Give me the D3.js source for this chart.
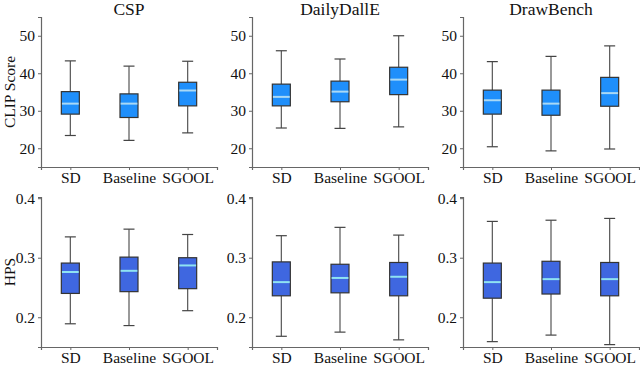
<!DOCTYPE html>
<html>
<head>
<meta charset="utf-8">
<script src="https://cdn.jsdelivr.net/npm/d3@7"></script>
<style>
  body { margin: 0; background: #fff; }
  svg { display: block; }
  text { font-family: "Liberation Serif", "Times New Roman", serif; fill: #111; }
</style>
</head>
<body>
<svg id="chart"></svg>
<script>
// ===== DATA =====
const datasets = ["CSP", "DailyDallE", "DrawBench"];
const methods = ["SD", "Baseline", "SGOOL"];

// [lower whisker, Q1, median, Q3, upper whisker] per method
const clipCSP        = [[23.4, 29.1, 31.9, 35.1, 43.3], [22.1, 28.2, 31.9, 34.5, 41.9], [24.1, 31.3, 35.4, 37.6, 43.2]];
const clipDailyDallE = [[25.4, 31.3, 33.7, 37.1, 46.0], [25.3, 32.4, 35.1, 37.9, 43.8], [25.7, 34.3, 38.3, 41.6, 50.0]];
const clipDrawBench  = [[20.4, 29.1, 32.8, 35.5, 43.1], [19.3, 28.8, 31.9, 35.5, 44.5], [19.8, 31.2, 34.7, 38.9, 47.3]];

const hpsCSP        = [[0.189, 0.240, 0.276, 0.291, 0.335], [0.186, 0.243, 0.278, 0.301, 0.348], [0.211, 0.248, 0.287, 0.300, 0.339]];
const hpsDailyDallE = [[0.168, 0.236, 0.259, 0.293, 0.337], [0.175, 0.241, 0.266, 0.289, 0.351], [0.162, 0.236, 0.268, 0.292, 0.338]];
const hpsDrawBench  = [[0.159, 0.232, 0.259, 0.291, 0.361], [0.170, 0.239, 0.264, 0.294, 0.363], [0.154, 0.236, 0.264, 0.292, 0.366]];

const clipTicks = [20, 30, 40, 50];
const hpsTicks = [0.2, 0.3, 0.4];

const rows = [
    { label: "CLIP Score", data: [clipCSP, clipDailyDallE, clipDrawBench], domain: [15, 55], ticks: clipTicks, fmt: d3.format("d"),
      fill: "#1f8ffb", median: "#a9d8f5", top: 17, bottom: 167 },
    { label: "HPS", data: [hpsCSP, hpsDailyDallE, hpsDrawBench], domain: [0.15, 0.402], ticks: hpsTicks, fmt: d3.format(".1f"),
      fill: "#3f67e0", median: "#8fe3f2", top: 197, bottom: 347 }
];

const width = 640, height = 365;
const svg = d3.select("svg#chart")
    .attr("width", width)
    .attr("height", height);

const panelLeft = [41, 252, 463];
const panelWidth = 176;
const boxW = 18, capW = 11;

rows.forEach((row, ri) => {
    const y = d3.scaleLinear().domain(row.domain).range([row.bottom, row.top]);

    datasets.forEach((name, ci) => {
        const x0 = panelLeft[ci];
        const x = d3.scalePoint()
            .domain(methods)
            .range([x0, x0 + panelWidth])
            .padding(0.5);

        const g = svg.append("g");

        // y axis
        const yAxis = g.append("g")
            .attr("transform", `translate(${x0},0)`)
            .call(d3.axisLeft(y).tickValues(row.ticks).tickFormat(row.fmt).tickSizeOuter(0).tickSize(3).tickPadding(3));
        // x axis
        const xAxis = g.append("g")
            .attr("transform", `translate(0,${row.bottom})`)
            .call(d3.axisBottom(x).tickSizeOuter(0).tickSize(3).tickPadding(2));

        [yAxis, xAxis].forEach(a => {
            a.select(".domain").attr("stroke", "#666").attr("stroke-width", 1.2);
            a.selectAll(".tick line").attr("stroke", "#666");
            a.selectAll("text")
                .attr("fill", "#111")
                .style("font-family", "'Liberation Serif', serif")
                .style("font-size", "15.5px");
        });

        // titles
        if (ri === 0) {
            g.append("text")
                .attr("x", x0 + panelWidth / 2)
                .attr("y", 14.5)
                .attr("text-anchor", "middle")
                .style("font-size", "17.5px")
                .text(name);
        }
        if (ci === 0) {
            g.append("text")
                .attr("transform", `translate(15,${(row.top + row.bottom) / 2}) rotate(-90)`)
                .attr("text-anchor", "middle")
                .style("font-size", "15.5px")
                .text(row.label);
        }

        // boxes
        const boxes = g.selectAll("g.box")
            .data(row.data[ci].map((v, i) => ({ m: methods[i], v })))
            .join("g")
            .attr("class", "box")
            .attr("transform", d => `translate(${x(d.m)},0)`);

        boxes.append("line")
            .attr("y1", d => y(d.v[0])).attr("y2", d => y(d.v[1]))
            .attr("stroke", "#555").attr("stroke-width", 1.2);
        boxes.append("line")
            .attr("y1", d => y(d.v[3])).attr("y2", d => y(d.v[4]))
            .attr("stroke", "#555").attr("stroke-width", 1.2);
        boxes.selectAll("line.cap")
            .data(d => [d.v[0], d.v[4]])
            .join("line")
            .attr("class", "cap")
            .attr("x1", -capW / 2).attr("x2", capW / 2)
            .attr("y1", v => y(v)).attr("y2", v => y(v))
            .attr("stroke", "#444").attr("stroke-width", 1.2);
        boxes.append("rect")
            .attr("x", -boxW / 2)
            .attr("width", boxW)
            .attr("y", d => y(d.v[3]))
            .attr("height", d => y(d.v[1]) - y(d.v[3]))
            .attr("fill", row.fill)
            .attr("stroke", "#333")
            .attr("stroke-width", 1.2);
        boxes.append("line")
            .attr("x1", -boxW / 2 + 0.6).attr("x2", boxW / 2 - 0.6)
            .attr("y1", d => y(d.v[2])).attr("y2", d => y(d.v[2]))
            .attr("stroke", row.median).attr("stroke-width", 2);
    });
});
</script>
</body>
</html>
